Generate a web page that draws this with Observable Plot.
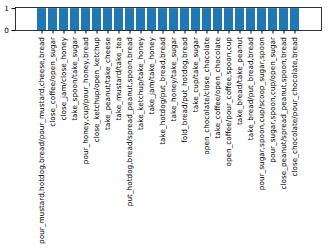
<!DOCTYPE html>
<html><head><meta charset="utf-8">
<script src="https://cdn.jsdelivr.net/npm/d3@7"></script>
<script src="https://cdn.jsdelivr.net/npm/@observablehq/plot@0.6"></script>
<style>body{margin:0;background:#fff}</style>
</head><body><div id="chart"></div>
<script>
const categories = [
  "pour_mustard,hotdog,bread/pour_mustard,cheese,bread",
  "close_coffee/open_sugar",
  "close_jam/close_honey",
  "take_spoon/take_sugar",
  "pour_honey,cup/pour_honey,bread",
  "close_ketchup/open_ketchup",
  "take_peanut/take_cheese",
  "take_mustard/take_tea",
  "put_hotdog,bread/spread_peanut,spoon,bread",
  "take_ketchup/take_honey",
  "take_jam/take_honey",
  "take_hotdog/put_bread,bread",
  "take_honey/take_sugar",
  "fold_bread/put_hotdog,bread",
  "take_cup/take_sugar",
  "open_chocolate/close_chocolate",
  "take_coffee/open_chocolate",
  "open_coffee/pour_coffee,spoon,cup",
  "take_bread/take_peanut",
  "take_bread/put_bread,bread",
  "pour_sugar,spoon,cup/scoop_sugar,spoon",
  "pour_sugar,spoon,cup/open_sugar",
  "close_peanut/spread_peanut,spoon,bread",
  "close_chocolate/pour_chocolate,bread"
];
const values = [1,1,1,1,1,1,1,1,1,1,1,1,1,1,1,1,1,1,1,1,1,1,1,1];
const yTicks = [0, 1];
const data = categories.map((c, i) => ({c, v: values[i]}));

const chart = Plot.plot({
  width: 328,
  height: 250,
  marginTop: 7,
  marginBottom: 220,
  marginLeft: 15,
  marginRight: 7,
  style: {fontFamily: "DejaVu Sans", fontSize: "7.3px", color: "#000", background: "#fff"},
  x: {domain: categories, paddingInner: 0.2, paddingOuter: 1.19, label: null},
  y: {domain: [0, 1.05], ticks: yTicks, label: null},
  marks: [
    Plot.barY(data, {x: "c", y: "v", fill: "#1f77b4"}),
    Plot.axisX({tickRotate: -90, tickSize: 3.5, tickPadding: 3, fontSize: 7.3, label: null}),
    Plot.axisY({ticks: yTicks, tickFormat: d3.format("d"), tickSize: 3.5, tickPadding: 3, fontSize: 7.3, label: null}),
    Plot.frame({stroke: "#000", strokeWidth: 0.8})
  ]
});
document.getElementById("chart").appendChild(chart);
</script>
</body></html>
